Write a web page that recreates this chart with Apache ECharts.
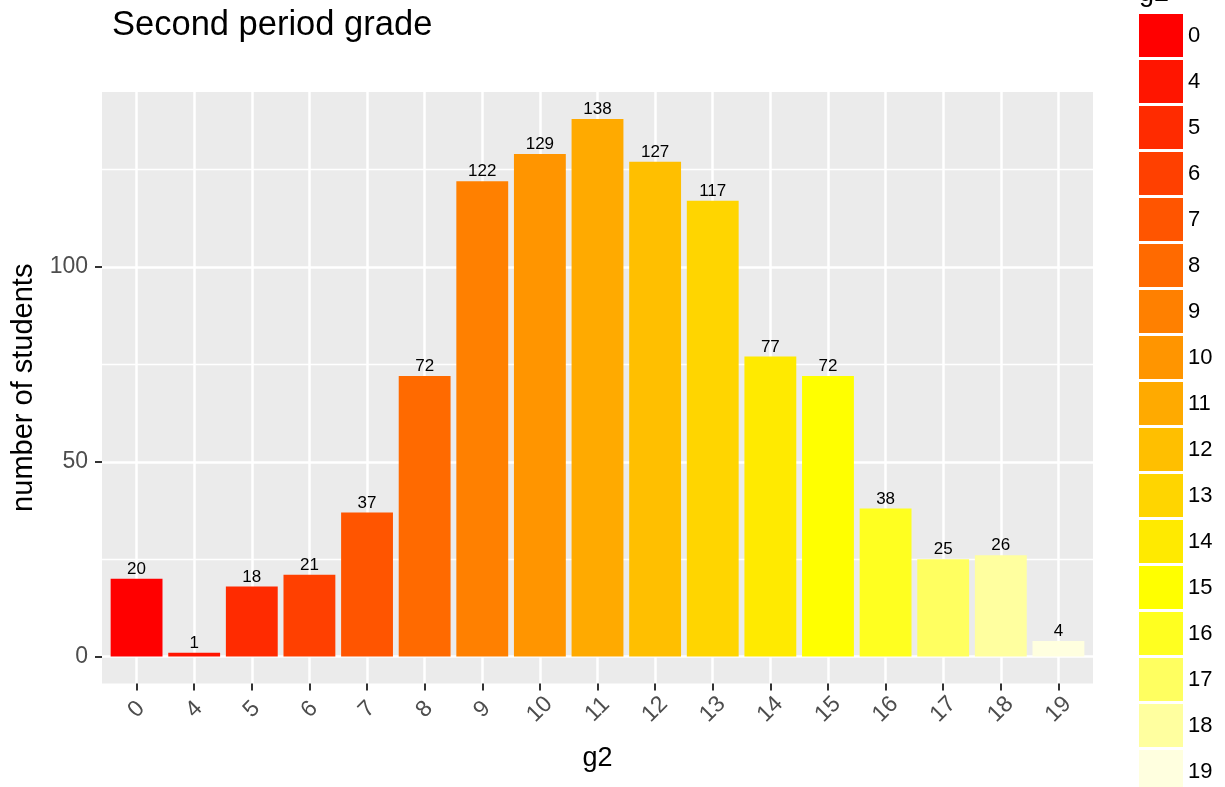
<!DOCTYPE html>
<html>
<head>
<meta charset="utf-8">
<title>Second period grade</title>
<script src="https://cdn.jsdelivr.net/npm/echarts@6/dist/echarts.min.js"></script>
<style>
  html, body { margin: 0; padding: 0; background: #ffffff; }
  #chart { width: 1225px; height: 787px; }
</style>
</head>
<body>
<div id="chart"></div>
<script>
// Second-period grade (g2) and how many students got each one
const grades = ['0', '4', '5', '6', '7', '8', '9', '10', '11', '12', '13', '14', '15', '16', '17', '18', '19'];
const counts = [20, 1, 18, 21, 37, 72, 122, 129, 138, 127, 117, 77, 72, 38, 25, 26, 4];
// heat palette, one colour per grade
const colors = ['#FF0000', '#FF1500', '#FF2B00', '#FF4000', '#FF5500', '#FF6A00', '#FF8000', '#FF9500',
                '#FFAA00', '#FFBF00', '#FFD500', '#FFEA00', '#FFFF00', '#FFFF20', '#FFFF60', '#FFFF9F', '#FFFFDF'];
const yTicks = [0, 50, 100];
const yMinorTicks = [25, 75, 125];

const FONT = '"Liberation Sans", Arial, Helvetica, sans-serif';
const xPositions = grades.map((g, i) => i);

const chart = echarts.init(document.getElementById('chart'), null, { renderer: 'canvas' });

const series = grades.map((g, i) => ({
  name: g,
  type: 'bar',
  stack: 'g2',
  barWidth: '90%',
  xAxisIndex: 0,
  yAxisIndex: 0,
  itemStyle: { color: colors[i] },
  label: {
    show: true,
    position: 'top',
    distance: 1,
    color: '#000000',
    fontFamily: FONT,
    fontSize: 17,
    formatter: p => String(p.value[1])
  },
  emphasis: { disabled: true },
  data: [[i, counts[i]]]
}));

chart.setOption({
  animation: false,
  backgroundColor: '#ffffff',
  textStyle: { fontFamily: FONT },
  title: [
    {
      text: 'Second period grade',
      left: 112, top: 8, padding: 0,
      textStyle: { fontFamily: FONT, fontSize: 34.5, fontWeight: 'normal', color: '#000000' }
    },
    {
      text: 'g2',
      left: 1139, top: -20, padding: 0,
      textStyle: { fontFamily: FONT, fontSize: 27, fontWeight: 'normal', color: '#000000' }
    }
  ],
  legend: {
    orient: 'vertical',
    left: 1139, top: 14, padding: 0,
    height: 900,
    itemWidth: 44, itemHeight: 43, itemGap: 3,
    icon: 'rect',
    selectedMode: false,
    textStyle: { fontFamily: FONT, fontSize: 22, color: '#000000' },
    data: grades
  },
  grid: {
    left: 102, right: 132, top: 92, bottom: 103.5,
    show: true, backgroundColor: '#EBEBEB', borderWidth: 0,
    containLabel: false
  },
  xAxis: {
    type: 'value',
    min: -0.6, max: grades.length - 0.4,
    name: 'g2', nameLocation: 'middle', nameGap: 62,
    nameTextStyle: { fontFamily: FONT, fontSize: 27, color: '#000000' },
    axisLine: { show: false, onZero: false },
    axisTick: { show: true, length: 7, customValues: xPositions, lineStyle: { color: '#333333', width: 2 } },
    axisLabel: {
      customValues: xPositions,
      formatter: v => grades[Math.round(v)],
      rotate: 45, align: 'center', verticalAlign: 'middle', margin: 26,
      fontFamily: FONT, fontSize: 23, color: '#4D4D4D'
    },
    splitLine: { show: true, lineStyle: { color: '#FFFFFF', width: 2.5 } }
  },
  yAxis: [
    {
      type: 'value',
      min: -6.9, max: 144.9,
      name: 'number of students', nameLocation: 'middle', nameGap: 54,
      nameTextStyle: { fontFamily: FONT, fontSize: 29, color: '#000000' },
      axisLine: { show: false, onZero: false },
      axisTick: { show: true, length: 7, customValues: yTicks, lineStyle: { color: '#333333', width: 2 } },
      axisLabel: { customValues: yTicks, margin: 14, fontFamily: FONT, fontSize: 23, color: '#4D4D4D' },
      splitLine: { show: true, lineStyle: { color: '#FFFFFF', width: 2.5 } },
      z: 1
    },
    {
      type: 'value',
      position: 'left',
      min: -6.9, max: 144.9,
      axisLine: { show: false, onZero: false },
      axisTick: { show: false, customValues: yMinorTicks },
      axisLabel: { show: false, customValues: yMinorTicks },
      splitLine: { show: true, lineStyle: { color: '#FFFFFF', width: 1.3 } },
      z: 0
    }
  ],
  series: series
});
</script>
</body>
</html>
